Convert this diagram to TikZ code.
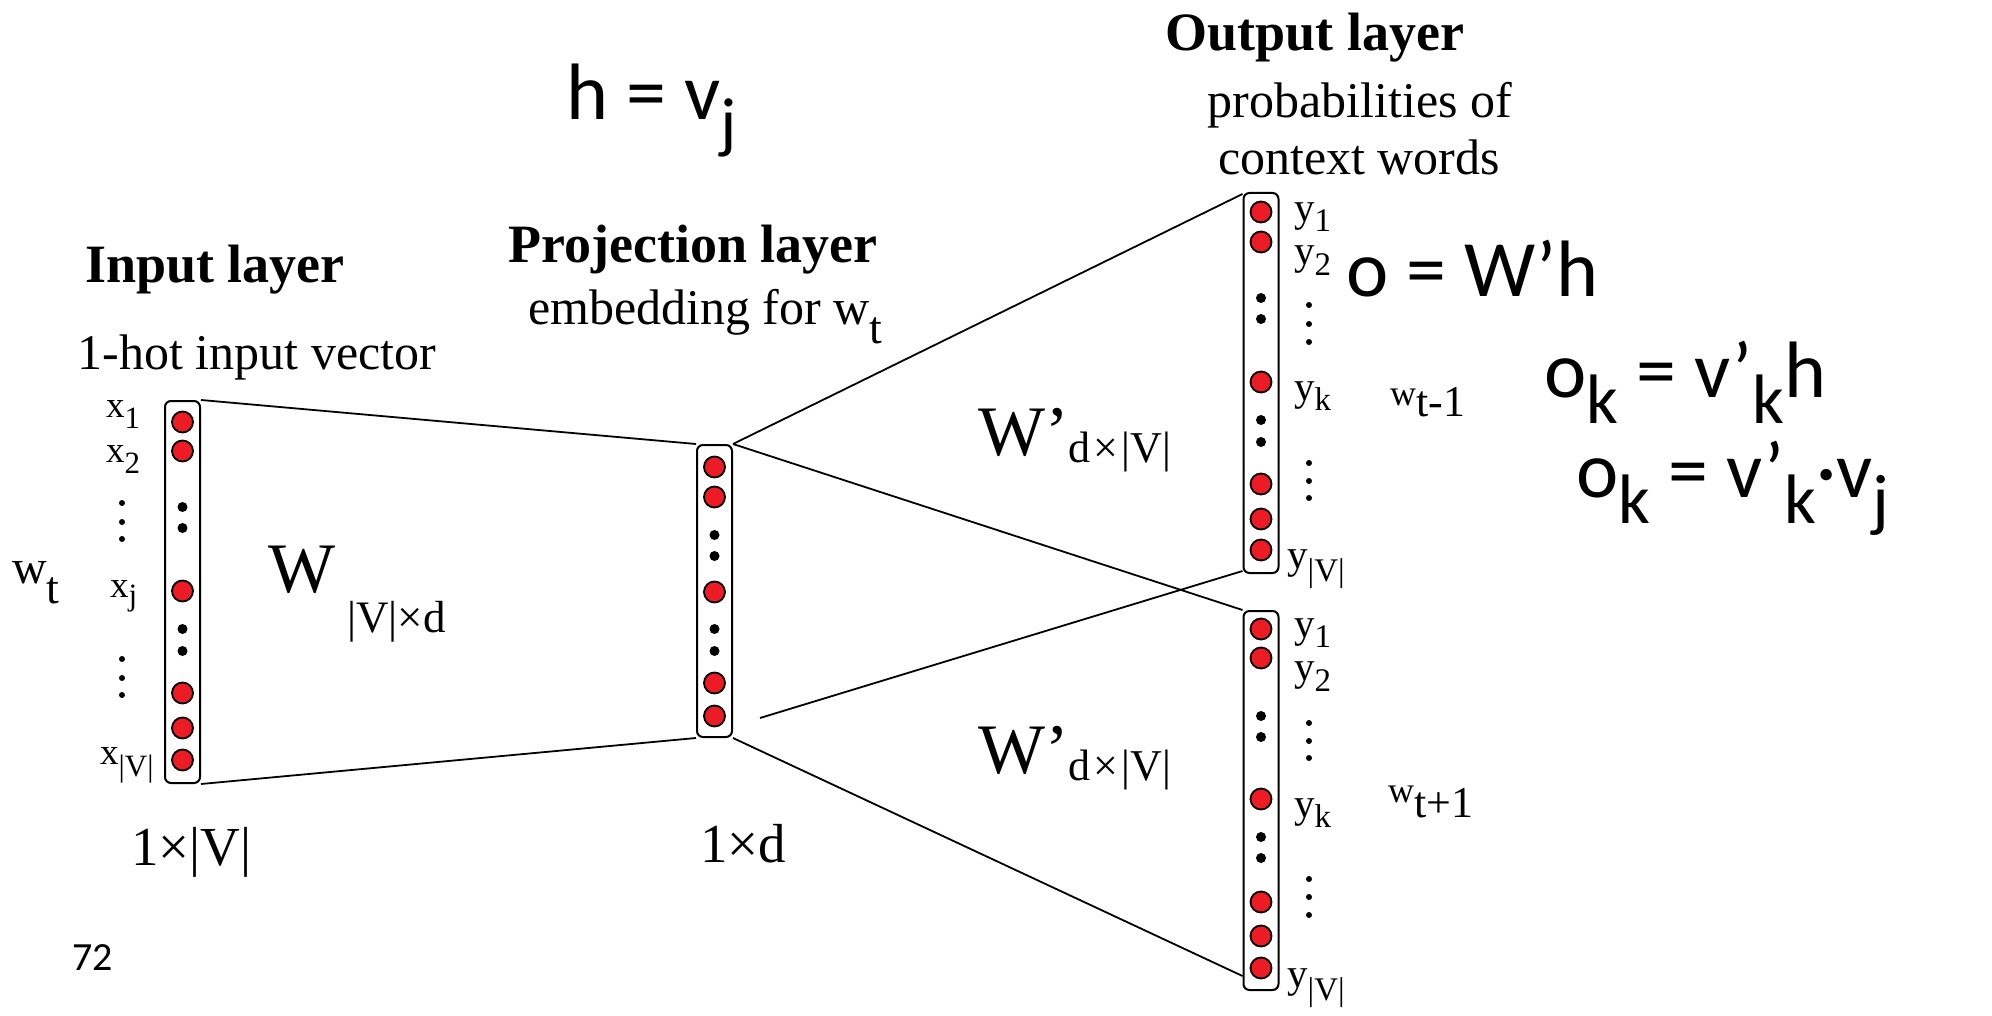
\documentclass[tikz,border=0pt]{standalone}
\usepackage{fontspec}
\setmainfont{Liberation Serif}
\newfontfamily\calfont{Carlito}
\newcommand\myfs[1]{\fontsize{#1}{#1}\selectfont}
\newcommand\lowsub[3]{\raisebox{-#1pt}{\myfs{#2}#3}}
\definecolor{nodered}{RGB}{237,28,36}
\begin{document}
\begin{tikzpicture}[x=1pt,y=-1pt,
  col/.style={draw, line width=2pt, rounded corners=6pt, minimum width=35pt, inner sep=0pt},
  neuron/.style={circle, draw, line width=1.8pt, fill=nodered, minimum size=21pt, inner sep=0pt},
  bdot/.style={circle, fill=black, minimum size=10pt, inner sep=0pt},
  sdot/.style={circle, fill=black, minimum size=6pt, inner sep=0pt},
  txt/.style={inner sep=0pt, anchor=base west},
  ctxt/.style={inner sep=0pt, anchor=base},
  conn/.style={line width=1.8pt}
]
\path[use as bounding box] (0,0) rectangle (1992,1016);

% columns
\node[col, minimum height=382pt] (in) at (182.5,592) {};
\node[col, minimum height=292pt] (proj) at (714.5,591) {};
\node[col, minimum height=380pt] (out1) at (1261,383) {};
\node[col, minimum height=379pt] (out2) at (1261,800.5) {};

% input neurons
\foreach \y/\n in {422/1,451/2,591/j,693/a,728/b,760/v}
  \node[neuron] (in\n) at (182.5,\y) {};
\foreach \y/\n in {507/1,528/2,629/3,651/4}
  \node[bdot] (ind\n) at (182.5,\y) {};
% projection neurons
\foreach \y/\n in {467/1,497/2,592/3,683/4,716/5}
  \node[neuron] (pr\n) at (714.5,\y) {};
\foreach \y/\n in {535/1,556/2,629/3,651/4}
  \node[bdot] (prd\n) at (714.5,\y) {};
% output 1
\foreach \y/\n in {212/1,242/2,382/k,484/a,519/b,550/v}
  \node[neuron] (oa\n) at (1261,\y) {};
\foreach \y/\n in {298/1,319/2,420/3,442/4}
  \node[bdot] (oad\n) at (1261,\y) {};
% output 2
\foreach \y/\n in {629/1,658/2,799/k,902/a,936/b,968/v}
  \node[neuron] (ob\n) at (1261,\y) {};
\foreach \y/\n in {716/1,737/2,837/3,858/4}
  \node[bdot] (obd\n) at (1261,\y) {};

% ellipsis dots beside labels
\foreach \y/\n in {503/1,522/2,539/3,659/4,678/5,695/6}
  \node[sdot] (ie\n) at (122,\y) {};
\foreach \y/\n in {305/1,324/2,342/3,463/4,481/5,498/6,723/7,741/8,758/9,879/10,897/11,915/12}
  \node[sdot] (oe\n) at (1309,\y) {};

% connectors
\draw[conn] (in.north east) -- (proj.north west);
\draw[conn] (in.south east) -- (proj.south west);
\draw[conn] (proj.north east) -- ([yshift=-2pt]out1.north west);
\draw[conn] (proj.north east) -- (out2.north west);
\coordinate (cross) at (760,718);
\draw[conn] (cross) -- ([yshift=3pt]out1.south west);
\draw[conn] (proj.south east) -- ([yshift=15pt]out2.south west);

% input labels
\node[txt] (lx1) at (106,417) {\myfs{37}x\lowsub{11}{31}{1}};
\node[txt] (lx2) at (106,462) {\myfs{37}x\lowsub{11}{31}{2}};
\node[txt] (lxj) at (110,597) {\myfs{37}x\lowsub{8}{31}{j}};
\node[txt] (lxv) at (100,764) {\myfs{37}x\lowsub{12}{31}{|V|}};

% output labels
\node[txt] (ya1) at (1294,222) {\myfs{41}y\lowsub{10}{33}{1}};
\node[txt] (ya2) at (1294,265) {\myfs{41}y\lowsub{11}{33}{2}};
\node[txt] (yak) at (1294,400) {\myfs{41}y\lowsub{10}{33}{k}};
\node[txt] (yav) at (1287,568) {\myfs{41}y\lowsub{13}{33}{|V|}};
\node[txt] (yb1) at (1294,637) {\myfs{41}y\lowsub{10}{33}{1}};
\node[txt] (yb2) at (1294,680) {\myfs{41}y\lowsub{11}{33}{2}};
\node[txt] (ybk) at (1294,817) {\myfs{41}y\lowsub{10}{33}{k}};
\node[txt] (ybv) at (1287,987) {\myfs{41}y\lowsub{13}{33}{|V|}};

% titles
\node[ctxt] (tout) at (1315,51) {\myfs{54}\bfseries Output layer};
\node[ctxt] (tprob) at (1360,118) {\myfs{50}probabilities of};
\node[ctxt] (tctx) at (1359,175) {\myfs{50}context words};
\node[ctxt] (tproj) at (693,263) {\myfs{54}\bfseries Projection layer};
\node[txt] (temb) at (528,325) {\myfs{50}embedding for w\lowsub{18}{46}{t}};
\node[ctxt] (tin) at (215,283) {\myfs{54}\bfseries Input layer};
\node[ctxt] (thot) at (257,370) {\myfs{50}1-hot input vector};

% weights
\node[txt] (wA) at (268,592) {\myfs{71}W};
\node[txt] (wAs) at (347,632) {\myfs{45}|V|×d};
\node[txt] (wB) at (978,455) {\myfs{71}W’\lowsub{7}{44}{d\kern3pt×\kern3pt|V|}};
\node[txt] (wC) at (978,773) {\myfs{71}W’\lowsub{7}{44}{d\kern3pt×\kern3pt|V|}};

% dimensions
\node[txt] (d1) at (131,865) {\myfs{55}1×|V|};
\node[txt] (d2) at (700,862) {\myfs{55}1×d};

% word labels
\node[txt] (wt) at (12,583) {\myfs{48}w\lowsub{20}{46}{t}};
\node[txt] (wtm) at (1390,405) {\myfs{36}w\lowsub{11}{44}{t-1}};
\node[txt] (wtp) at (1388,802) {\myfs{36}w\lowsub{15}{44}{t+1}};

% formulas
\node[txt] (fh) at (566,120) {\calfont\myfs{80}h = v\lowsub{26}{68}{j}};
\node[txt] (fo) at (1346,297) {\calfont\myfs{80}o = W’h};
\node[txt] (fk1) at (1544,397) {\calfont\myfs{80}o\lowsub{26}{70}{k} = v’\lowsub{26}{70}{k}h};
\node[txt] (fk2) at (1576,497) {\calfont\myfs{80}o\lowsub{26}{70}{k} = v’\lowsub{26}{70}{k}·v\lowsub{26}{70}{j}};

% page number
\node[txt] (pg) at (72,970) {\calfont\myfs{40}72};
\end{tikzpicture}
\end{document}
